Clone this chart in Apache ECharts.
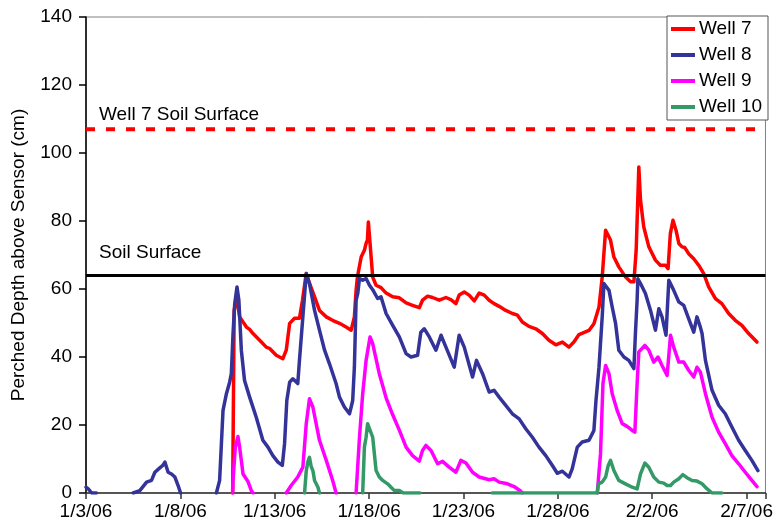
<!DOCTYPE html>
<html>
<head>
<meta charset="utf-8">
<script src="https://cdn.jsdelivr.net/npm/echarts@6/dist/echarts.min.js"></script>
<style>
html,body{margin:0;padding:0;background:#fff;}
#chart{width:776px;height:531px;}
</style>
</head>
<body>
<div id="chart"></div>
<script>
// x = days since 1/3/06
const tickLabels = ['1/3/06','1/8/06','1/13/06','1/18/06','1/23/06','1/28/06','2/2/06','2/7/06'];
const seriesNames = ['Well 7','Well 8','Well 9','Well 10'];
const seriesColors = ['#FF0000','#333399','#FF00FF','#339966'];
const soilSurface = 64;
const well7SoilSurface = 107;

const well7 = [[7.77,0],[7.85,53.7],[7.98,57.6],[8.14,51.8],[8.50,48.8],[8.67,48.1],[8.85,46.9],[9.20,44.9],[9.55,42.9],[9.73,42.5],[10.08,40.5],[10.43,39.5],[10.61,42.0],[10.79,49.9],[11.05,51.4],[11.31,51.4],[11.47,56.7],[11.67,64.6],[11.84,61.7],[12.11,57.7],[12.37,53.7],[12.73,51.8],[13.06,50.8],[13.43,49.9],[13.78,48.8],[14.05,47.9],[14.22,51.8],[14.31,59.6],[14.38,63.5],[14.58,69.4],[14.75,71.4],[14.84,73.4],[14.91,74.4],[14.96,79.7],[15.05,73.4],[15.19,63.5],[15.37,61.1],[15.63,60.4],[15.90,58.8],[16.25,57.7],[16.60,57.4],[16.96,55.9],[17.30,55.2],[17.66,54.5],[17.83,56.7],[18.10,57.9],[18.36,57.5],[18.72,56.7],[19.07,57.5],[19.33,56.9],[19.60,55.7],[19.77,58.2],[20.04,59.1],[20.30,58.2],[20.57,56.5],[20.83,58.8],[21.10,58.2],[21.36,56.7],[21.62,55.7],[21.89,54.9],[22.24,53.7],[22.59,52.8],[22.86,52.3],[23.12,50.3],[23.47,49.0],[23.83,48.3],[24.18,46.9],[24.53,44.9],[24.89,43.6],[25.24,44.4],[25.59,42.9],[25.85,44.4],[26.12,46.6],[26.65,47.8],[26.91,49.8],[27.18,54.7],[27.35,63.5],[27.53,77.3],[27.61,77.8],[27.79,74.4],[27.97,69.4],[28.23,66.5],[28.59,63.5],[28.85,62.1],[29.03,62.1],[29.15,71.4],[29.29,95.9],[29.38,86.1],[29.55,78.3],[29.82,72.4],[30.17,68.5],[30.43,67.0],[30.70,67.0],[30.84,66.0],[30.96,76.3],[31.10,80.2],[31.26,77.3],[31.41,73.4],[31.58,72.4],[31.72,72.2],[31.93,70.4],[32.20,68.9],[32.46,67.0],[32.73,64.5],[32.99,60.6],[33.35,57.2],[33.69,55.7],[34.05,52.8],[34.40,50.8],[34.75,49.3],[35.11,46.9],[35.55,44.4]];

const well8 = [[0,1.7],[0.12,1.2],[0.30,0],[0.55,0],[1.5,'-'],
[2.50,0],[2.85,0.7],[3.21,3.2],[3.47,3.7],[3.65,6.1],[3.91,7.4],[4.07,8.1],[4.18,9.1],[4.35,6.1],[4.53,5.6],[4.71,4.7],[4.88,2.2],[5.01,0],[6,'-'],
[6.91,0],[7.08,3.7],[7.26,24.3],[7.44,29.2],[7.61,32.6],[7.70,35.1],[7.79,46.9],[7.88,55.7],[8.00,60.6],[8.10,56.7],[8.23,42.0],[8.40,33.1],[8.67,28.2],[9.02,22.3],[9.37,15.5],[9.64,13.5],[9.90,11.0],[10.17,9.1],[10.40,8.1],[10.52,14.5],[10.64,27.2],[10.79,32.6],[10.96,33.6],[11.22,32.2],[11.31,39.0],[11.49,51.8],[11.67,64.5],[11.84,61.6],[12.11,53.7],[12.37,47.9],[12.64,42.0],[12.90,38.0],[13.25,32.2],[13.43,28.2],[13.69,25.3],[13.96,23.3],[14.05,25.3],[14.13,27.2],[14.22,37.0],[14.31,56.7],[14.40,58.7],[14.49,63.1],[14.66,62.6],[14.84,63.1],[15.02,61.1],[15.19,59.8],[15.45,57.2],[15.63,57.7],[15.90,52.8],[16.25,49.3],[16.60,45.9],[16.96,41.0],[17.22,40.0],[17.57,40.5],[17.74,47.3],[17.92,48.3],[18.19,45.9],[18.54,42.0],[18.81,46.4],[19.07,42.9],[19.51,37.0],[19.77,46.4],[20.04,42.9],[20.48,34.1],[20.69,39.0],[21.01,35.1],[21.36,29.7],[21.62,30.2],[21.89,28.2],[22.24,25.8],[22.59,23.3],[22.95,21.8],[23.30,18.9],[23.65,16.4],[24.00,13.5],[24.36,11.0],[24.71,8.1],[24.97,5.8],[25.24,6.4],[25.59,4.7],[25.76,7.1],[26.03,13.5],[26.29,15.0],[26.65,15.5],[26.91,18.4],[27.02,27.2],[27.18,37.0],[27.35,51.8],[27.44,61.6],[27.53,62.1],[27.71,59.6],[27.88,54.7],[28.06,49.8],[28.23,42.0],[28.50,40.0],[28.76,39.0],[29.03,36.6],[29.11,46.9],[29.20,56.7],[29.24,63.0],[29.38,61.6],[29.64,58.7],[29.91,53.7],[30.17,47.9],[30.35,54.2],[30.52,51.8],[30.73,46.4],[30.88,62.6],[31.14,59.6],[31.41,56.2],[31.67,55.2],[31.93,51.3],[32.20,47.3],[32.37,51.8],[32.55,48.8],[32.64,46.9],[32.82,39.0],[33.17,30.2],[33.52,25.8],[33.87,23.3],[34.22,19.4],[34.58,15.5],[34.93,12.5],[35.28,9.6],[35.60,6.6]];

const well9 = [[7.77,0],[7.79,3.7],[7.91,13.5],[8.05,16.6],[8.14,13.5],[8.32,5.6],[8.58,3.4],[8.76,0.7],[8.85,0],[9.5,'-'],
[10.61,0],[10.87,2.2],[11.22,4.7],[11.49,7.6],[11.67,20.4],[11.84,27.7],[12.02,25.3],[12.37,15.5],[12.73,9.6],[13.07,3.7],[13.25,0],[13.8,'-'],
[14.31,0],[14.49,16.4],[14.66,29.2],[14.84,39.0],[15.05,45.9],[15.19,43.9],[15.54,35.1],[15.90,28.0],[16.25,23.0],[16.60,18.5],[16.96,13.5],[17.30,11.0],[17.66,9.4],[17.83,12.5],[18.01,14.0],[18.28,12.5],[18.63,8.6],[18.89,9.3],[19.24,7.6],[19.60,6.1],[19.86,9.6],[20.13,8.8],[20.48,6.1],[20.83,4.7],[21.36,3.9],[21.62,4.2],[21.89,3.2],[22.33,2.7],[22.68,1.9],[23.04,0.5],[23.12,0],[25,'-'],
[27.09,0],[27.26,11.5],[27.39,32.2],[27.53,37.5],[27.71,35.1],[27.88,29.2],[28.14,24.3],[28.41,20.4],[28.67,19.6],[28.94,18.4],[29.08,17.9],[29.20,32.2],[29.29,41.5],[29.61,43.4],[29.82,42.0],[30.08,38.5],[30.31,40.0],[30.52,37.5],[30.79,34.6],[30.97,46.4],[31.14,42.9],[31.41,38.5],[31.67,38.5],[31.93,36.1],[32.20,34.1],[32.37,37.0],[32.55,35.6],[32.82,29.2],[33.17,22.3],[33.52,17.9],[33.87,14.5],[34.22,11.0],[34.58,8.6],[34.93,6.1],[35.28,3.7],[35.55,1.9]];

const well10 = [[11.58,0],[11.67,6.6],[11.76,9.3],[11.84,10.5],[11.93,7.8],[12.02,6.6],[12.11,3.7],[12.29,1.7],[12.37,0],[13,'-'],
[14.66,0],[14.75,13.5],[14.84,16.4],[14.92,20.4],[15.01,20.4],[15.19,16.4],[15.37,6.6],[15.54,4.7],[15.72,3.7],[15.98,2.7],[16.16,1.7],[16.34,0.7],[16.60,0.7],[16.81,0],[17.7,0],[19,'-'],
[21.52,0],[27.09,0],[27.15,2.7],[27.35,3.2],[27.53,4.7],[27.67,8.1],[27.79,9.6],[27.97,6.6],[28.23,3.7],[28.58,2.7],[28.94,1.7],[29.20,1.2],[29.38,5.6],[29.61,8.8],[29.82,7.6],[30.08,4.7],[30.35,3.2],[30.61,2.9],[30.79,2.2],[30.97,2.2],[31.14,3.2],[31.41,4.2],[31.62,5.4],[31.84,4.5],[32.11,3.7],[32.37,3.5],[32.64,2.7],[32.91,1.2],[33.17,0],[33.69,0]];

const seriesData = [well7, well8, well9, well10];
const FONT = "'Liberation Sans', Arial, sans-serif";

const chart = echarts.init(document.getElementById('chart'), null, {renderer:'canvas'});

const series = seriesNames.map((name, i) => ({
  name: name,
  type: 'line',
  data: seriesData[i],
  showSymbol: false,
  symbol: 'none',
  connectNulls: false,
  lineStyle: { color: seriesColors[i], width: 3.5, join: 'round', cap: 'round' },
  itemStyle: { color: seriesColors[i] },
  z: 2
}));

series.push({
  name: 'Well 7 Soil Surface',
  type: 'line',
  data: [[0, well7SoilSurface], [36, well7SoilSurface]],
  symbol: 'none',
  lineStyle: { color: '#FF0000', width: 4, type: [9, 11], cap: 'butt' },
  z: 3
});
series.push({
  name: 'Soil Surface',
  type: 'line',
  data: [[0, soilSurface], [36, soilSurface]],
  symbol: 'none',
  lineStyle: { color: '#000000', width: 3 },
  z: 3
});

chart.setOption({
  animation: false,
  backgroundColor: '#ffffff',
  textStyle: { fontFamily: FONT },
  grid: { left: 86, right: 9, top: 17, bottom: 38, show: true, borderColor: '#808080', borderWidth: 1, backgroundColor: 'transparent' },
  legend: {
    data: seriesNames.map((n, i) => ({ name: n, icon: 'rect', itemStyle: { color: seriesColors[i] } })),
    orient: 'vertical',
    left: 667,
    top: 16,
    width: 102,
    padding: [3, 6, 3, 4],
    itemWidth: 24,
    itemHeight: 4,
    itemGap: 6,
    borderColor: '#555555',
    borderWidth: 1,
    backgroundColor: '#ffffff',
    textStyle: { fontFamily: FONT, fontSize: 19, color: '#000', lineHeight: 20, padding: [0,0,0,-1] }
  },
  xAxis: {
    type: 'value',
    min: 0,
    max: 36,
    interval: 5,
    splitLine: { show: false },
    axisLine: { show: true, onZero: false, lineStyle: { color: '#333', width: 1.5 } },
    axisTick: { show: true, length: 6, lineStyle: { color: '#333', width: 1.5 } },
    axisLabel: {
      margin: 9, fontSize: 19, color: '#000', fontFamily: FONT,
      formatter: v => { const k = Math.round(v / 5); return (v % 5 === 0 && tickLabels[k]) ? tickLabels[k] : ''; }
    }
  },
  yAxis: {
    type: 'value',
    min: 0,
    max: 140,
    interval: 20,
    name: 'Perched Depth above Sensor (cm)',
    nameLocation: 'middle',
    nameRotate: 90,
    nameGap: 58,
    nameTextStyle: { fontSize: 19, color: '#000', fontFamily: FONT },
    splitLine: { show: false },
    axisLine: { show: true, lineStyle: { color: '#000', width: 1.5 } },
    axisTick: { show: true, length: 7, lineStyle: { color: '#000', width: 1.5 } },
    axisLabel: { margin: 14, fontSize: 19, color: '#000', fontFamily: FONT }
  },
  series: series,
  graphic: [
    { type: 'text', x: 99, y: 115, style: { text: 'Well 7 Soil Surface', font: '19px ' + FONT, fill: '#000', verticalAlign: 'middle' }, z: 10 },
    { type: 'text', x: 99, y: 252.5, style: { text: 'Soil Surface', font: '19px ' + FONT, fill: '#000', verticalAlign: 'middle' }, z: 10 }
  ]
});
</script>
</body>
</html>
